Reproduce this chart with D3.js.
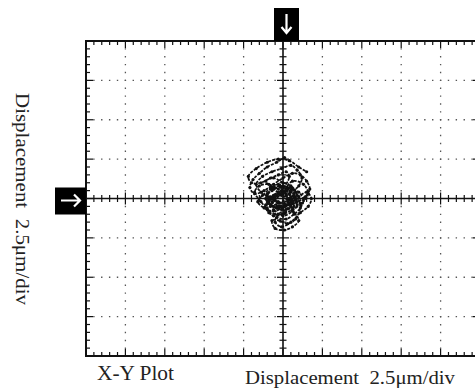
<!DOCTYPE html>
<html>
<head>
<meta charset="utf-8">
<script src="https://cdn.jsdelivr.net/npm/d3@7"></script>
<style>
  body { margin: 0; background: #fff; }
  svg { display: block; }
  text { font-family: "Liberation Serif", "DejaVu Serif", serif; fill: #222; white-space: pre; }
</style>
</head>
<body>
<svg id="chart" width="475" height="389"></svg>
<script>
// scope settings: 2.5 um per division, 10 x 8 divisions
var divSize = 2.5;
var xDivs = [-12.5, -10, -7.5, -5, -2.5, 0, 2.5, 5, 7.5, 10, 12.5];
var yDivs = [-10, -7.5, -5, -2.5, 0, 2.5, 5, 7.5, 10];
var xLabel = "Displacement  2.5\u03bcm/div";
var yLabel = "Displacement  2.5\u03bcm/div";
var title = "X-Y Plot";

// trace of the spot (um)
var traceX = [0.1, -0.4, -1.0, -1.5, -1.9, -2.1, -1.8, -1.2, -0.6, 0.0, 0.6, 1.1, 1.5, 1.7, 1.4, 0.9, 0.3, -0.3, -0.9, -1.4,
  -1.7, -1.3, -0.7, -0.1, 0.5, 0.9, 1.2, 1.0, 0.5, -0.1, -0.7, -1.1, -0.9, -0.4, 0.2, 0.7, 1.1, 1.3, 1.0, 0.4,
  -0.2, -0.8, -1.3, -1.6, -1.2, -0.6, 0.0, 0.6, 1.0, 1.5, 1.8, 1.6, 1.1, 0.5, -0.1, -0.5, -0.3, 0.2, 0.7, 0.4,
  -0.2, -0.7, -1.1, -0.6, 0.0, 0.5, 0.8, 0.3, -0.3, -0.8, -0.5, 0.0, 0.6, 1.3, 1.6, 1.2, 0.6, 0.0, -0.6, -1.0,
  -1.4, -1.8, -1.5, -0.9, -0.3, 0.2, 0.7, 1.1, 0.8, 0.3, -0.2, -0.7, -0.5, 0.1, 0.6, 1.0, 0.7, 0.1, -0.4, -0.9,
  -0.6, -0.1, 0.4, 0.2, -0.3, -0.8, -1.4, -2.0, -2.2, -1.7, -1.0, -0.3, 0.4, 1.0, 1.5];
var traceY = [2.6, 2.3, 2.0, 1.6, 1.2, 0.7, 0.3, 0.5, 0.9, 1.3, 1.6, 1.5, 1.1, 0.6, 0.1, -0.2, -0.4, -0.2, 0.1, 0.4,
  0.9, 1.4, 1.7, 1.9, 2.1, 1.8, 1.3, 0.8, 0.4, 0.2, 0.0, -0.4, -0.9, -1.2, -1.3, -1.0, -0.6, -0.1, 0.4, 0.7,
  0.8, 0.6, 0.2, -0.2, -0.6, -0.8, -0.6, -0.3, 0.1, 0.4, 0.0, -0.5, -0.9, -1.5, -1.8, -1.5, -1.0, -0.7, -0.5, -0.1,
  0.3, 0.7, 1.1, 1.3, 1.0, 0.8, 0.4, 0.0, -0.3, -0.5, -0.1, 0.4, 1.1, 0.9, 0.3, -0.3, -0.7, -1.0, -1.1, -0.7,
  -0.2, 0.4, 0.8, 0.9, 0.6, 0.3, 0.1, -0.3, -1.3, -1.6, -1.4, -1.4, -1.9, -2.0, -1.8, -1.4, -0.9, -0.5, -0.6, -0.3,
  0.2, 0.5, 1.4, 1.7, 1.5, 1.3, 1.0, 1.0, 1.4, 1.9, 2.3, 2.5, 2.4, 2.0, 1.7];
// the dense knot near the centre
var coreX = [-0.8, -0.3, 0.3, 0.7, 0.4, -0.2, -0.7, -1.0, -0.6, 0.0, 0.5, 0.8, 0.2, -0.4, -0.9, -0.5, 0.1, 0.6, 0.9, 0.3,
  -0.3, -0.8, -1.1, -0.7, -0.1, 0.4, 0.8, 0.5, -0.1, -0.6, -0.9, -0.4, 0.2, 0.7, 0.3, -0.2, -0.7, -0.3, 0.2, 0.6,
  0.1, -0.5, -1.0, -0.8, -0.2, 0.4, 0.9, 0.6, 0.0, -0.6];
var coreY = [0.7, 0.9, 0.6, 0.2, -0.3, -0.5, -0.2, 0.3, 0.6, 0.8, 0.5, 0.0, -0.4, -0.6, -0.3, 0.1, 0.4, 0.6, 0.2, -0.2,
  -0.5, -0.4, 0.0, 0.5, 0.7, 0.3, -0.1, -0.5, -0.7, -0.5, -0.1, 0.2, 0.5, 0.3, -0.1, -0.3, 0.0, 0.4, 0.2, -0.2,
  -0.9, -1.0, -0.6, 0.1, 0.3, 0.0, -0.4, -0.8, -1.1, -0.7];

var svg = d3.select("#chart");
var x = d3.scaleLinear().domain([-12.5, 12.5]).range([86, 480]);
var y = d3.scaleLinear().domain([-10, 10]).range([356, 41]);
var x0 = x(0), y0 = y(0);

var minorX = d3.range(-12.5, 12.51, divSize / 5);
var minorY = d3.range(-10, 10.01, divSize / 5);

// dotted graticule
var grid = svg.append("g").attr("stroke", "#555").attr("stroke-width", 1.3)
  .attr("stroke-dasharray", "1.4,6.48");
grid.selectAll(".gx").data(xDivs.filter(d => d !== 0 && Math.abs(d) < 12.5)).enter().append("line")
  .attr("x1", d => x(d)).attr("x2", d => x(d))
  .attr("y1", y(10)).attr("y2", y(-10))
  .attr("stroke-dashoffset", 0.7);
grid.selectAll(".gy").data(yDivs.filter(d => d !== 0 && Math.abs(d) < 10)).enter().append("line")
  .attr("y1", d => y(d)).attr("y2", d => y(d))
  .attr("x1", x(-12.5)).attr("x2", x(12.5))
  .attr("stroke-dashoffset", 0.7);

// the trace
var line = d3.line().x(d => x(d[0])).y(d => y(d[1]))
  .curve(d3.curveCatmullRom.alpha(0.5));
[[traceX, traceY], [coreX, coreY]].forEach(function (s) {
  var pts = d3.zip(s[0], s[1]);
  svg.append("path").datum(pts)
    .attr("d", line)
    .attr("fill", "none").attr("stroke", "#111").attr("stroke-width", 1.7)
    .attr("stroke-dasharray", "3,1.2");
  svg.append("g").selectAll("circle").data(pts).enter().append("circle")
    .attr("cx", d => x(d[0])).attr("cy", d => y(d[1])).attr("r", 1.6)
    .attr("fill", "#111");
});

// centre axes with ticks
var ax = svg.append("g").attr("stroke", "#111");
ax.append("line").attr("x1", x0).attr("x2", x0).attr("y1", y(10)).attr("y2", y(-10)).attr("stroke-width", 1.6);
ax.append("line").attr("y1", y0).attr("y2", y0).attr("x1", x(-12.5)).attr("x2", x(12.5)).attr("stroke-width", 1.6);
var isMajor = v => Math.abs(v / divSize - Math.round(v / divSize)) < 1e-6;
ax.selectAll(".tx").data(minorX).enter().append("line")
  .attr("x1", d => x(d)).attr("x2", d => x(d))
  .attr("y1", d => y0 - (isMajor(d) ? 6 : 3.5)).attr("y2", d => y0 + (isMajor(d) ? 6 : 3.5))
  .attr("stroke-width", 1.2);
ax.selectAll(".ty").data(minorY).enter().append("line")
  .attr("y1", d => y(d)).attr("y2", d => y(d))
  .attr("x1", d => x0 - (isMajor(d) ? 6 : 3.5)).attr("x2", d => x0 + (isMajor(d) ? 6 : 3.5))
  .attr("stroke-width", 1.2);

// border with inward ticks
var bd = svg.append("g").attr("stroke", "#111");
bd.append("rect").attr("x", x(-12.5)).attr("y", y(10))
  .attr("width", x(12.5) - x(-12.5)).attr("height", y(-10) - y(10))
  .attr("fill", "none").attr("stroke-width", 2);
[y(10), y(-10)].forEach(function (yy, k) {
  var dir = k === 0 ? 1 : -1;
  bd.selectAll(null).data(minorX).enter().append("line")
    .attr("x1", d => x(d)).attr("x2", d => x(d))
    .attr("y1", yy).attr("y2", d => yy + dir * (isMajor(d) ? 7 : 4))
    .attr("stroke-width", 1.2);
});
[x(-12.5), x(12.5)].forEach(function (xx, k) {
  var dir = k === 0 ? 1 : -1;
  bd.selectAll(null).data(minorY).enter().append("line")
    .attr("y1", d => y(d)).attr("y2", d => y(d))
    .attr("x1", xx).attr("x2", d => xx + dir * (isMajor(d) ? 7 : 4))
    .attr("stroke-width", 1.2);
});

// position markers
var mk = svg.append("g");
mk.append("rect").attr("x", x0 - 9).attr("y", 8).attr("width", 25).attr("height", y(10) - 8).attr("fill", "#000");
mk.append("path")
  .attr("d", "M" + (x0 + 3.5) + ",14 V32 M" + (x0 - 1.5) + ",27 L" + (x0 + 3.5) + ",33 L" + (x0 + 8.5) + ",27")
  .attr("fill", "none").attr("stroke", "#fff").attr("stroke-width", 2.2);
mk.append("rect").attr("x", 55).attr("y", y0 - 11).attr("width", x(-12.5) - 55).attr("height", 27).attr("fill", "#000");
mk.append("path")
  .attr("d", "M61," + (y0 + 2) + " H80 M74," + (y0 - 4) + " L80," + (y0 + 2) + " L74," + (y0 + 8))
  .attr("fill", "none").attr("stroke", "#fff").attr("stroke-width", 2.2);

// labels
svg.append("text").attr("x", 97).attr("y", 380).attr("font-size", 20)
  .attr("textLength", 77).attr("lengthAdjust", "spacingAndGlyphs").text(title);
svg.append("text").attr("x", 245).attr("y", 384).attr("font-size", 19)
  .attr("textLength", 210).attr("lengthAdjust", "spacingAndGlyphs").text(xLabel);
svg.append("text").attr("transform", "translate(16,93) rotate(90)").attr("font-size", 19)
  .attr("textLength", 212).attr("lengthAdjust", "spacingAndGlyphs").text(yLabel);
</script>
</body>
</html>
